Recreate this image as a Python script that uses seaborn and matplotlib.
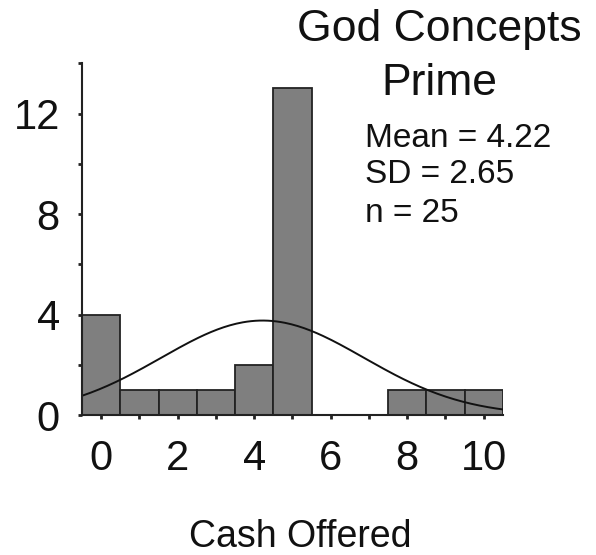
import numpy as np
import pandas as pd
import matplotlib
matplotlib.use("Agg")
import matplotlib.pyplot as plt
import seaborn as sns

# histogram of cash offered (bin centre -> count)
cash = [0, 1, 2, 3, 4, 5, 6, 7, 8, 9, 10]
counts = [4, 1, 1, 1, 2, 13, 0, 0, 1, 1, 1]
mean_val = 4.22
sd_val = 2.65
n_val = 25

df = pd.DataFrame({"cash": cash, "count": counts})

sns.set_style("white")
plt.rcParams["font.family"] = ["Liberation Sans", "DejaVu Sans"]
plt.rcParams["text.color"] = "#111111"

fig = plt.figure(figsize=(5.96, 5.55), dpi=100)
ax = fig.add_axes([0.1376, 0.252, 0.706, 0.634])

sns.histplot(data=df, x="cash", weights="count", discrete=True, ax=ax,
             color="#7f7f7f", edgecolor="#222222", linewidth=1.3, alpha=1)

# fitted normal curve, scaled to counts (bin width 1)
xs = np.linspace(-0.5, 10.5, 200)
ys = n_val * np.exp(-(xs - mean_val) ** 2 / (2 * sd_val ** 2)) / (sd_val * np.sqrt(2 * np.pi))
sns.lineplot(x=xs, y=ys, ax=ax, color="#111111", linewidth=1.4)

ax.set_xlim(-0.5, 10.5)
ax.set_ylim(0, 14)
ax.set_xticks(range(0, 11))
ax.set_xticklabels([str(v) if v % 2 == 0 else "" for v in range(0, 11)])
ax.set_yticks(range(0, 15, 2))
ax.set_yticklabels([str(v) if v % 4 == 0 else "" for v in range(0, 15, 2)])
ax.tick_params(axis="both", direction="out", length=3, width=2, labelsize=30,
               color="#222222", labelcolor="#111111", bottom=True, left=True)
ax.tick_params(axis="x", pad=14)
ax.tick_params(axis="y", pad=13)
ax.set_xlabel("")
ax.set_ylabel("")
for side in ["top", "right"]:
    ax.spines[side].set_visible(False)
for side in ["left", "bottom"]:
    ax.spines[side].set_color("#222222")
    ax.spines[side].set_linewidth(1.5)

fig.text(0.737, 0.946, "God Concepts", fontsize=32, ha="center", va="center")
fig.text(0.737, 0.85, "Prime", fontsize=32, ha="center", va="center")
fig.text(0.612, 0.75, "Mean = %.2f" % mean_val, fontsize=24, ha="left", va="center")
fig.text(0.612, 0.685, "SD = %.2f" % sd_val, fontsize=24, ha="left", va="center")
fig.text(0.612, 0.616, "n = %d" % n_val, fontsize=24, ha="left", va="center")
fig.text(0.503, 0.032, "Cash Offered", fontsize=27, ha="center", va="center")

fig.savefig("out.png", dpi=100, facecolor="white")
